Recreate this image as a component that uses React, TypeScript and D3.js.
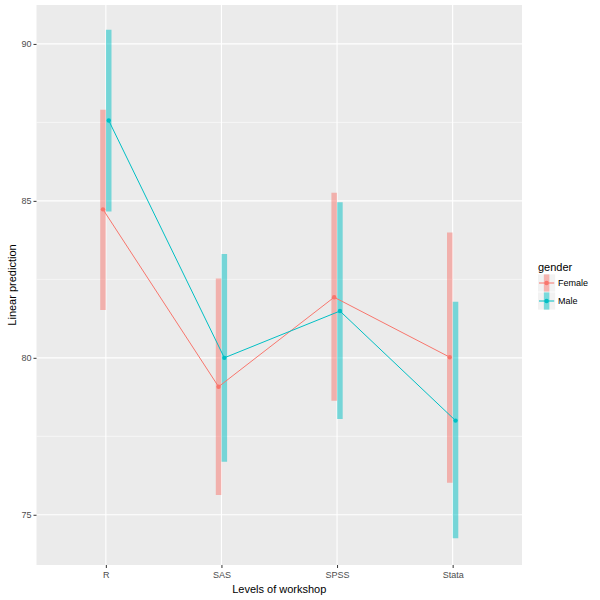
import { useRef, useEffect } from 'react';
import * as d3 from 'd3';

const workshops = ['R', 'SAS', 'SPSS', 'Stata'];
const genders = ['Female', 'Male'];
const genderColors = ['#F8766D', '#00BFC4'];

// predicted means with lower / upper CI
const femaleMean = [84.73, 79.08, 81.93, 80.02];
const femaleLow = [81.52, 75.63, 78.63, 76.02];
const femaleHigh = [87.9, 82.53, 85.26, 83.99];
const maleMean = [87.56, 80.0, 81.49, 78.0];
const maleLow = [84.66, 76.69, 78.05, 74.25];
const maleHigh = [90.45, 83.31, 84.96, 81.79];

const yTicks = [75, 80, 85, 90];
const yMinor = [77.5, 82.5, 87.5];

export default function App() {
    const ref = useRef<SVGSVGElement>(null);

    useEffect(() => {
        if (!ref.current) return;
        const svg = d3.select(ref.current);
        svg.selectAll('*').remove();

        const left = 36.5;
        const right = 522;
        const top = 5;
        const bottom = 565;
        const font = 'Liberation Sans, Arial, sans-serif';

        const x = d3.scalePoint<string>().domain(workshops).range([left, right]).padding(0.6);
        const y = d3.scaleLinear().domain([73.4, 91.24]).range([bottom, top]);
        const dodge = x.step() * 0.025;

        const series = [
            { mean: femaleMean, low: femaleLow, high: femaleHigh, off: -dodge },
            { mean: maleMean, low: maleLow, high: maleHigh, off: dodge },
        ];

        svg.append('rect')
            .attr('x', left).attr('y', top)
            .attr('width', right - left).attr('height', bottom - top)
            .attr('fill', '#EBEBEB');

        svg.append('g').selectAll('line').data(yMinor).join('line')
            .attr('x1', left).attr('x2', right)
            .attr('y1', (d) => y(d)).attr('y2', (d) => y(d))
            .attr('stroke', '#fff').attr('stroke-width', 0.55);
        svg.append('g').selectAll('line').data(yTicks).join('line')
            .attr('x1', left).attr('x2', right)
            .attr('y1', (d) => y(d)).attr('y2', (d) => y(d))
            .attr('stroke', '#fff').attr('stroke-width', 1.1);
        svg.append('g').selectAll('line').data(workshops).join('line')
            .attr('x1', (d) => x(d)!).attr('x2', (d) => x(d)!)
            .attr('y1', top).attr('y2', bottom)
            .attr('stroke', '#fff').attr('stroke-width', 1.1);

        // CI bars
        series.forEach((s, i) => {
            svg.append('g').selectAll('line').data(workshops).join('line')
                .attr('x1', (d) => x(d)! + s.off).attr('x2', (d) => x(d)! + s.off)
                .attr('y1', (d, j) => y(s.low[j])).attr('y2', (d, j) => y(s.high[j]))
                .attr('stroke', genderColors[i]).attr('stroke-opacity', 0.5)
                .attr('stroke-width', 5.5);
        });

        series.forEach((s, i) => {
            const line = d3.line<string>()
                .x((d) => x(d)! + s.off)
                .y((d, j) => y(s.mean[j]));
            svg.append('path')
                .attr('d', line(workshops))
                .attr('fill', 'none')
                .attr('stroke', genderColors[i])
                .attr('stroke-width', 1);
            svg.append('g').selectAll('circle').data(workshops).join('circle')
                .attr('cx', (d) => x(d)! + s.off)
                .attr('cy', (d, j) => y(s.mean[j]))
                .attr('r', 2.2)
                .attr('fill', genderColors[i]);
        });

        const yAxis = svg.append('g')
            .attr('transform', `translate(${left},0)`)
            .call(d3.axisLeft(y).tickValues(yTicks).tickSize(3).tickPadding(2));
        yAxis.select('.domain').remove();
        yAxis.selectAll('line').attr('stroke', '#333');
        yAxis.selectAll('text').attr('fill', '#4D4D4D').attr('font-size', 9).attr('font-family', font);

        const xAxis = svg.append('g')
            .attr('transform', `translate(0,${bottom})`)
            .call(d3.axisBottom(x).tickSize(3).tickPadding(4));
        xAxis.select('.domain').remove();
        xAxis.selectAll('line').attr('stroke', '#333');
        xAxis.selectAll('text').attr('fill', '#4D4D4D').attr('font-size', 9).attr('font-family', font);

        svg.append('text')
            .attr('x', (left + right) / 2).attr('y', 593)
            .attr('text-anchor', 'middle')
            .attr('font-size', 11).attr('font-family', font)
            .text('Levels of workshop');
        svg.append('text')
            .attr('transform', `translate(16,${(top + bottom) / 2}) rotate(-90)`)
            .attr('text-anchor', 'middle')
            .attr('font-size', 11).attr('font-family', font)
            .text('Linear prediction');

        // legend
        const lg = svg.append('g').attr('transform', 'translate(538,0)');
        lg.append('text')
            .attr('x', 0).attr('y', 271)
            .attr('font-size', 11).attr('font-family', font)
            .text('gender');
        genders.forEach((g, i) => {
            const cy = 283 + i * 18;
            const k = lg.append('g');
            k.append('rect')
                .attr('x', 0).attr('y', cy - 8.6)
                .attr('width', 17.2).attr('height', 17.2)
                .attr('fill', '#F2F2F2');
            k.append('line')
                .attr('x1', 8.6).attr('x2', 8.6)
                .attr('y1', cy - 8.6).attr('y2', cy + 8.6)
                .attr('stroke', genderColors[i]).attr('stroke-opacity', 0.5)
                .attr('stroke-width', 5.5);
            k.append('line')
                .attr('x1', 1).attr('x2', 16.2)
                .attr('y1', cy).attr('y2', cy)
                .attr('stroke', genderColors[i]).attr('stroke-width', 1);
            k.append('circle')
                .attr('cx', 8.6).attr('cy', cy).attr('r', 2.2)
                .attr('fill', genderColors[i]);
            lg.append('text')
                .attr('x', 20).attr('y', cy + 3.3)
                .attr('font-size', 9).attr('font-family', font)
                .text(g);
        });
    }, []);

    return (
        <svg
            ref={ref}
            width={600}
            height={600}
            style={{ position: 'absolute', left: 0, top: 0, background: '#fff' }}
        />
    );
}
